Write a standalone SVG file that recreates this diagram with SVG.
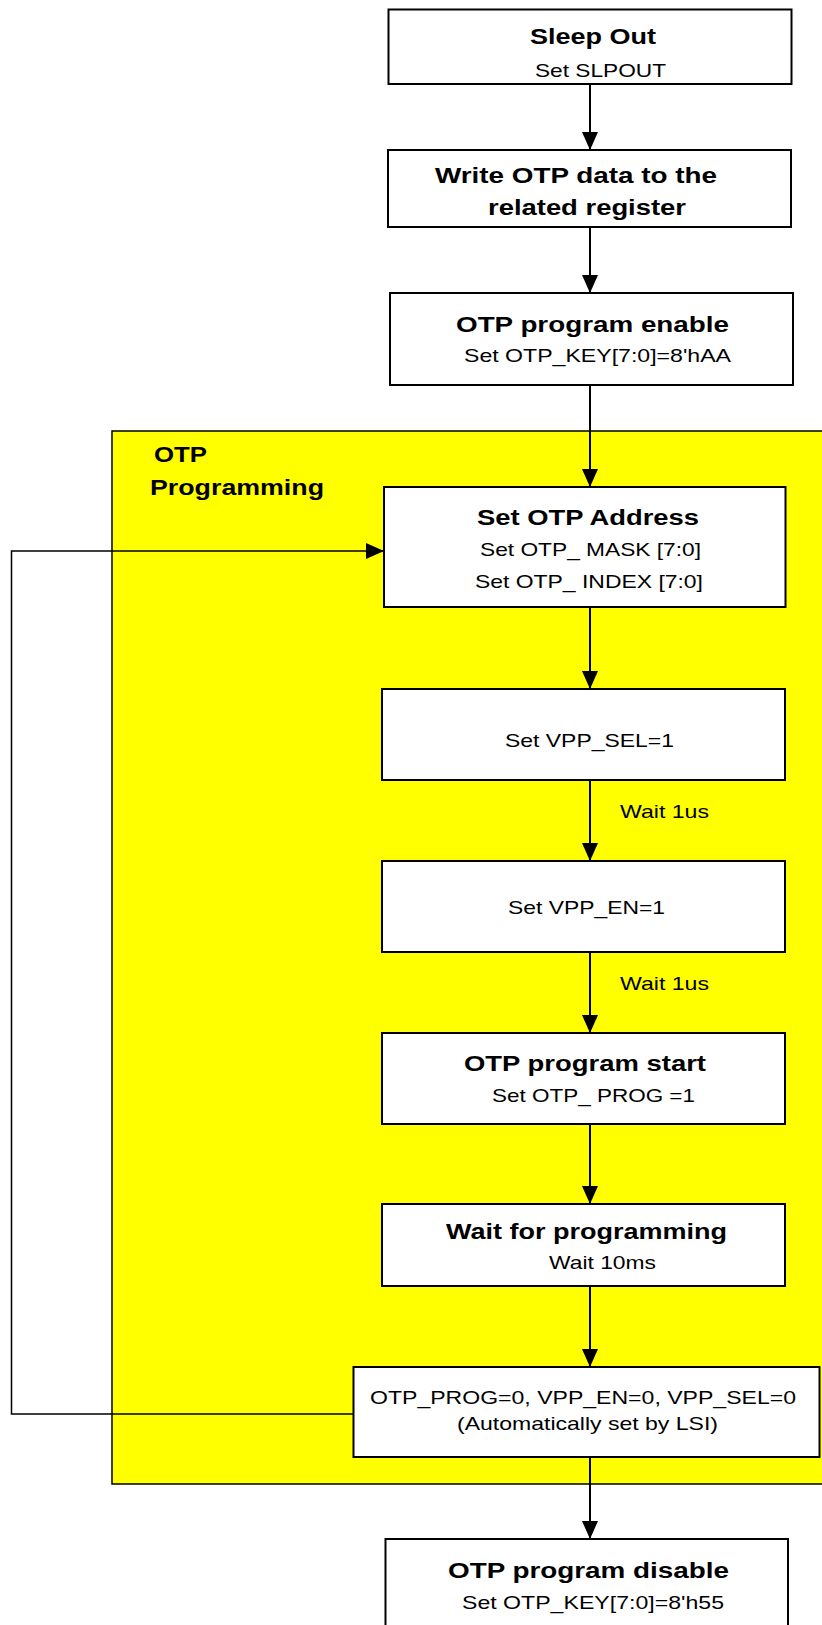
<svg xmlns="http://www.w3.org/2000/svg" width="822" height="1625" viewBox="0 0 822 1625">
<style>
.box{fill:#fff;stroke:#000;stroke-width:2}
.t{font-family:"Liberation Sans",Arial,sans-serif;font-weight:bold;font-size:22.5px;fill:#000;text-anchor:start}
.s{font-family:"Liberation Sans",Arial,sans-serif;font-size:19px;fill:#000;text-anchor:start}
.c{fill:none;stroke:#000;stroke-width:2}
.fb{fill:none;stroke:#000;stroke-width:1.5}
</style>
<defs>
<marker id="ah" markerUnits="userSpaceOnUse" markerWidth="18" markerHeight="16" refX="18" refY="8" orient="auto">
<path d="M0,0 L18,8 L0,16 z" fill="#000"/>
</marker>
</defs>
<rect width="822" height="1625" fill="#fff"/>
<g id="otp-programming">
<rect x="112" y="431" width="730" height="1053" fill="#ffff00" stroke="#000" stroke-width="1.5"/>
<text class="t" x="154" y="462" textLength="53" lengthAdjust="spacingAndGlyphs">OTP</text>
<text class="t" x="150" y="495" textLength="174" lengthAdjust="spacingAndGlyphs">Programming</text>
</g>
<g id="connectors">
<line class="c" x1="590" y1="84" x2="590" y2="150" marker-end="url(#ah)"/>
<line class="c" x1="590" y1="227" x2="590" y2="293" marker-end="url(#ah)"/>
<line class="c" x1="590" y1="385" x2="590" y2="487" marker-end="url(#ah)"/>
<line class="c" x1="590" y1="607" x2="590" y2="689" marker-end="url(#ah)"/>
<line class="c" x1="590" y1="780" x2="590" y2="861" marker-end="url(#ah)"/>
<line class="c" x1="590" y1="952" x2="590" y2="1033" marker-end="url(#ah)"/>
<line class="c" x1="590" y1="1124" x2="590" y2="1204" marker-end="url(#ah)"/>
<line class="c" x1="590" y1="1286" x2="590" y2="1367" marker-end="url(#ah)"/>
<line class="c" x1="590" y1="1457" x2="590" y2="1539" marker-end="url(#ah)"/>
<polyline class="fb" points="353.5,1414 11.5,1414 11.5,551 384,551" marker-end="url(#ah)"/>
<text class="s" x="620" y="818" textLength="89" lengthAdjust="spacingAndGlyphs">Wait 1us</text>
<text class="s" x="620" y="990" textLength="89" lengthAdjust="spacingAndGlyphs">Wait 1us</text>
</g>
<g id="sleep-out">
<rect class="box" x="388.5" y="9.5" width="403" height="74.5"/>
<text class="t" x="530" y="44" textLength="126" lengthAdjust="spacingAndGlyphs">Sleep Out</text>
<text class="s" x="535" y="77" textLength="131" lengthAdjust="spacingAndGlyphs">Set SLPOUT</text>
</g>
<g id="write-otp-data">
<rect class="box" x="388" y="150" width="403" height="77"/>
<text class="t" x="435" y="183" textLength="282" lengthAdjust="spacingAndGlyphs">Write OTP data to the</text>
<text class="t" x="488" y="215" textLength="198" lengthAdjust="spacingAndGlyphs">related register</text>
</g>
<g id="otp-program-enable">
<rect class="box" x="390" y="293" width="403" height="92"/>
<text class="t" x="456" y="332" textLength="273" lengthAdjust="spacingAndGlyphs">OTP program enable</text>
<text class="s" x="464" y="362" textLength="267" lengthAdjust="spacingAndGlyphs">Set OTP_KEY[7:0]=8'hAA</text>
</g>
<g id="set-otp-address">
<rect class="box" x="384" y="487" width="401.5" height="120"/>
<text class="t" x="477" y="525" textLength="222" lengthAdjust="spacingAndGlyphs">Set OTP Address</text>
<text class="s" x="480" y="556" textLength="221" lengthAdjust="spacingAndGlyphs">Set OTP_ MASK [7:0]</text>
<text class="s" x="475" y="588" textLength="228" lengthAdjust="spacingAndGlyphs">Set OTP_ INDEX [7:0]</text>
</g>
<g id="set-vpp-sel">
<rect class="box" x="382" y="689" width="403" height="91"/>
<text class="s" x="505" y="747" textLength="169" lengthAdjust="spacingAndGlyphs">Set VPP_SEL=1</text>
</g>
<g id="set-vpp-en">
<rect class="box" x="382" y="861" width="403" height="91"/>
<text class="s" x="508" y="914" textLength="157" lengthAdjust="spacingAndGlyphs">Set VPP_EN=1</text>
</g>
<g id="otp-program-start">
<rect class="box" x="382" y="1033" width="403" height="91"/>
<text class="t" x="464" y="1071" textLength="242" lengthAdjust="spacingAndGlyphs">OTP program start</text>
<text class="s" x="492" y="1102" textLength="203" lengthAdjust="spacingAndGlyphs">Set OTP_ PROG =1</text>
</g>
<g id="wait-for-programming">
<rect class="box" x="382" y="1204" width="403" height="82"/>
<text class="t" x="446" y="1239" textLength="281" lengthAdjust="spacingAndGlyphs">Wait for programming</text>
<text class="s" x="549" y="1269" textLength="107" lengthAdjust="spacingAndGlyphs">Wait 10ms</text>
</g>
<g id="auto-reset">
<rect class="box" x="353.5" y="1367" width="466" height="90"/>
<text class="s" x="370" y="1404" textLength="426" lengthAdjust="spacingAndGlyphs">OTP_PROG=0, VPP_EN=0, VPP_SEL=0</text>
<text class="s" x="457" y="1430" textLength="261" lengthAdjust="spacingAndGlyphs">(Automatically set by LSI)</text>
</g>
<g id="otp-program-disable">
<rect class="box" x="385.5" y="1539" width="402.5" height="100"/>
<text class="t" x="448" y="1578" textLength="281" lengthAdjust="spacingAndGlyphs">OTP program disable</text>
<text class="s" x="462" y="1609" textLength="262" lengthAdjust="spacingAndGlyphs">Set OTP_KEY[7:0]=8'h55</text>
</g>
</svg>
